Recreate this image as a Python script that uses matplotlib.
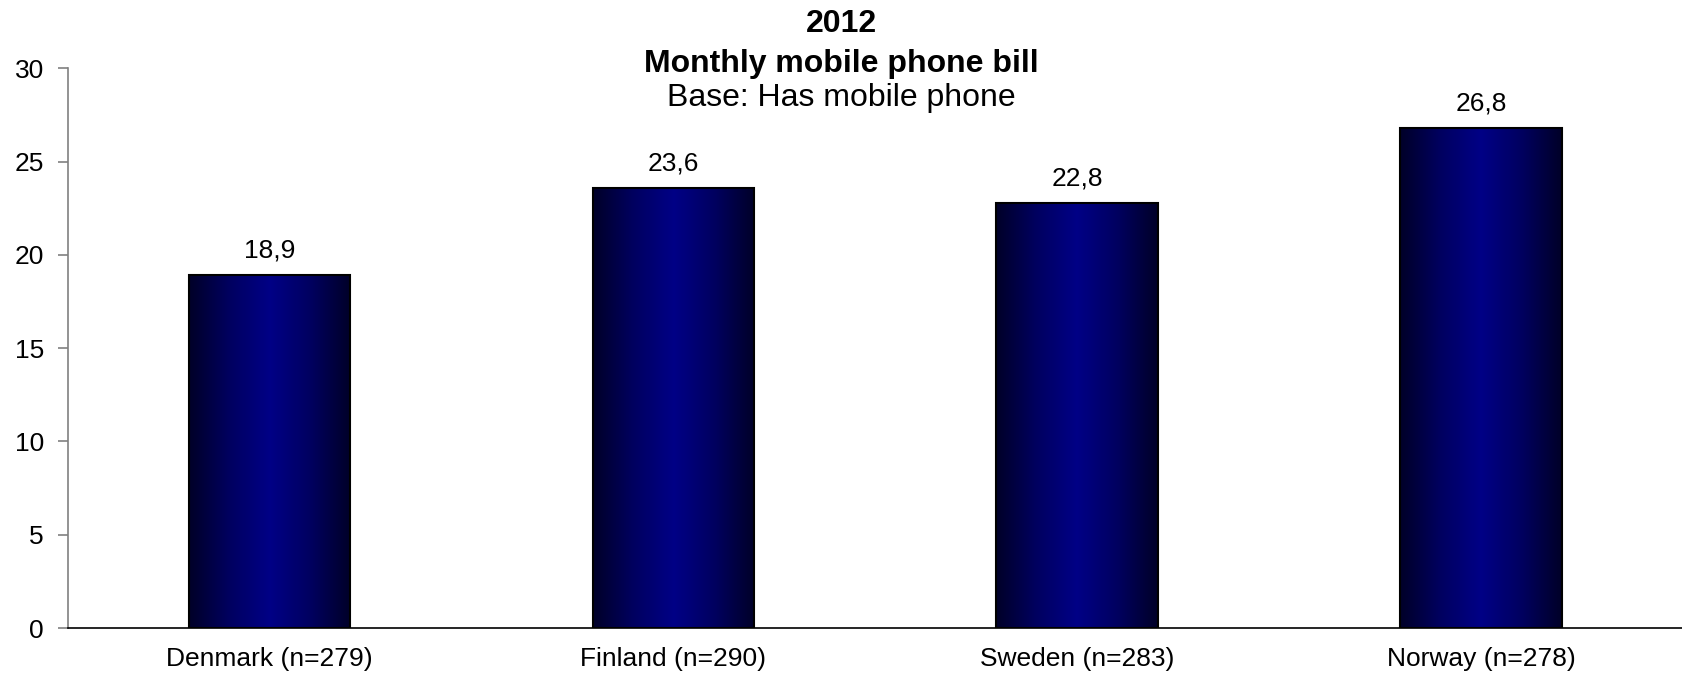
"""Monthly mobile phone bill by country, 2012."""
import matplotlib.pyplot as plt
import numpy as np
from matplotlib.colors import LinearSegmentedColormap

plt.rcParams["font.family"] = ["Liberation Sans", "DejaVu Sans"]

countries = ["Denmark (n=279)", "Finland (n=290)", "Sweden (n=283)", "Norway (n=278)"]
values = [18.9, 23.6, 22.8, 26.8]
yticks = [0, 5, 10, 15, 20, 25, 30]

# dark edges, brighter navy in the middle of each bar
bar_cmap = LinearSegmentedColormap.from_list(
    "bar", ["#000028", "#000060", "#000086", "#000060", "#000028"]
)

fig = plt.figure(figsize=(16.83, 6.76), dpi=100)
ax = fig.add_axes([0.0402, 0.071, 0.9598, 0.828])

x = np.arange(len(countries))
bars = ax.bar(x, values, width=0.4, facecolor="none", edgecolor="black", linewidth=1.5, zorder=3)
ax.set_xlim(-0.5, len(countries) - 0.5)
ax.set_ylim(0, 30)

grad = np.linspace(0, 1, 256).reshape(1, -1)
for bar in bars:
    x0, w, h = bar.get_x(), bar.get_width(), bar.get_height()
    img = ax.imshow(grad, cmap=bar_cmap, aspect="auto", extent=(x0, x0 + w, 0, h), zorder=2)
    img.set_clip_path(bar)

for xi, v in zip(x, values):
    ax.annotate(f"{v:.1f}".replace(".", ","), (xi, v), xytext=(0, 9), textcoords="offset points",
                ha="center", va="bottom", fontsize=19)

ax.set_xticks(x, countries, fontsize=19)
ax.set_yticks(yticks, [str(t) for t in yticks], fontsize=19)
ax.tick_params(axis="x", length=0, pad=14)
ax.tick_params(axis="y", direction="out", length=7, width=1.2, color="#808080", pad=10)

for side in ("top", "right"):
    ax.spines[side].set_visible(False)
ax.spines["left"].set_color("#808080")
ax.spines["left"].set_linewidth(1.2)
ax.spines["bottom"].set_color("black")
ax.spines["bottom"].set_linewidth(1.2)

fig.text(0.5, 0.965, "2012", ha="center", va="center", fontsize=23, fontweight="bold")
fig.text(0.5, 0.905, "Monthly mobile phone bill", ha="center", va="center", fontsize=23, fontweight="bold")
fig.text(0.5, 0.855, "Base: Has mobile phone", ha="center", va="center", fontsize=23)

fig.savefig("out.png", dpi=100)
